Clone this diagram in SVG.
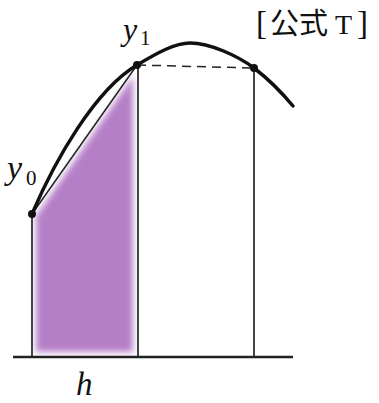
<svg xmlns="http://www.w3.org/2000/svg" width="379" height="403" viewBox="0 0 379 403">
<defs>
<filter id="soft" x="-20%" y="-20%" width="140%" height="140%"><feGaussianBlur stdDeviation="3"/></filter>
</defs>
<style>
.vline{stroke:#444;stroke-width:2;fill:none}
.curve{stroke:#111;stroke-width:3.5;fill:none;stroke-linecap:round}
.chord{stroke:#222;stroke-width:1.5;fill:none}
.dash{stroke:#222;stroke-width:1.5;fill:none;stroke-dasharray:9 6}
.dot{fill:#111}
.lbl{font-family:"Liberation Serif","DejaVu Serif",serif;font-style:italic;fill:#111}
.sub{font-family:"Liberation Serif","DejaVu Serif",serif;fill:#111}
</style>
<rect width="379" height="403" fill="#fff"/>
<g id="area">
<polygon points="36,216 133,76 133,352 36,352" fill="#b57fc7" filter="url(#soft)"/>
</g>
<g id="connectors">
<line class="vline" x1="32" y1="214" x2="32" y2="357"/>
<line class="vline" x1="138" y1="65" x2="138" y2="357"/>
<line class="vline" x1="254" y1="68" x2="254" y2="357"/>
<line x1="13" y1="357" x2="293" y2="357" stroke="#222" stroke-width="2.5"/>
<line class="chord" x1="32" y1="214" x2="137" y2="65"/>
<line class="dash" x1="137" y1="65" x2="254" y2="68"/>
<path class="curve" d="M32,214 C55,160 95,90 137,65 C157,53 175,43 190,43 C210,43 238,56 254,68 C267,78 283,94 293,106"/>
</g>
<g id="p0"><circle class="dot" cx="32" cy="214" r="4"/></g>
<g id="p1"><circle class="dot" cx="137" cy="65" r="4"/></g>
<g id="p2"><circle class="dot" cx="254" cy="68" r="4"/></g>
<g id="label-y0"><text class="lbl" x="7" y="179" font-size="34">y</text><text class="sub" x="26" y="185" font-size="21">0</text></g>
<g id="label-y1"><text class="lbl" x="123" y="40" font-size="32">y</text><text class="sub" x="140" y="45" font-size="21">1</text></g>
<g id="label-h"><text class="lbl" x="76" y="395" font-size="33">h</text></g>
<g id="title"><text y="34" font-size="28" font-family="'Liberation Serif','Noto Sans CJK JP',serif" fill="#111"><tspan x="256" font-size="33">[</tspan><tspan x="270" font-size="29" font-family="'Noto Sans CJK JP',sans-serif">公式</tspan><tspan x="335">T</tspan><tspan x="357" font-size="33">]</tspan></text></g>
</svg>
